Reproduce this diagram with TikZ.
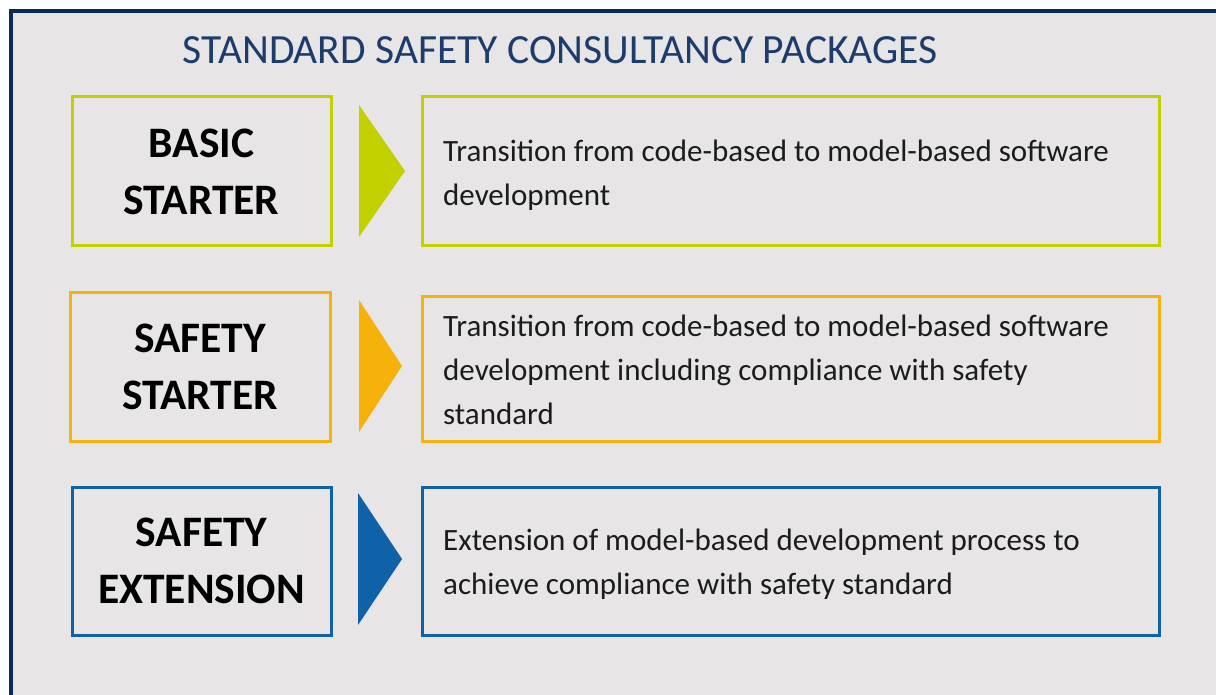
\documentclass[tikz,border=0pt]{standalone}
\usepackage{fontspec}
\setmainfont{Carlito}
\definecolor{bggray}{HTML}{E7E5E6}
\definecolor{frame}{HTML}{0B2A5C}
\definecolor{titleblue}{HTML}{1B3C6C}
\definecolor{lgreen}{HTML}{C2D000}
\definecolor{lorange}{HTML}{F6B10A}
\definecolor{lblue}{HTML}{1062A8}
\definecolor{txt}{HTML}{1C1C1C}
\tikzset{
  labelbox/.style={draw=#1, line width=3pt, inner sep=0pt},
  descbox/.style={draw=#1, line width=3pt, inner sep=0pt},
  labeltext/.style={font=\fontsize{43.5}{56.5}\selectfont\bfseries, align=center, text=black},
  desctext/.style={font=\fontsize{31}{44}\selectfont, align=left, text=txt, anchor=west, inner sep=0pt},
  titletext/.style={font=\fontsize{41.5}{46}\selectfont, text=titleblue},
}
\begin{document}
\begin{tikzpicture}[x=1pt,y=-1pt]
\useasboundingbox (0,0) rectangle (1216,695);
\fill[white] (0,0) rectangle (1216,695);
\fill[bggray] (10,11) rectangle (1216,695);
\draw[frame, line width=4pt] (10.5,695) -- (10.5,11.5) -- (1216,11.5);

\node[titletext] (title) at (560,50) {STANDARD SAFETY CONSULTANCY PACKAGES};

% Row 1
\draw[labelbox=lgreen] (72,97) rectangle (331,246);
\node[labeltext] (l1) at (201.5,172) {BASIC\\STARTER};
\fill[lgreen] (359,105) -- (405,171) -- (359,237) -- cycle;
\draw[descbox=lgreen] (422,97) rectangle (1159,246);
\node[desctext] (d1) at (443,175) {Transition from code-based to model-based software\\development};

% Row 2
\draw[labelbox=lorange] (70,292) rectangle (330,441);
\node[labeltext] (l2) at (200,367) {SAFETY\\STARTER};
\fill[lorange] (359,300) -- (402,366) -- (359,432) -- cycle;
\draw[descbox=lorange] (422,296) rectangle (1159,441);
\node[desctext] (d2) at (443,370) {Transition from code-based to model-based software\\development including compliance with safety\\standard};

% Row 3
\draw[labelbox=lblue] (72,487) rectangle (331,635);
\node[labeltext] (l3) at (201.5,561) {SAFETY\\EXTENSION};
\fill[lblue] (358,493) -- (402,559) -- (358,625) -- cycle;
\draw[descbox=lblue] (422,487) rectangle (1159,635);
\node[desctext] (d3) at (443,564) {Extension of model-based development process to\\achieve compliance with safety standard};
\end{tikzpicture}
\end{document}
